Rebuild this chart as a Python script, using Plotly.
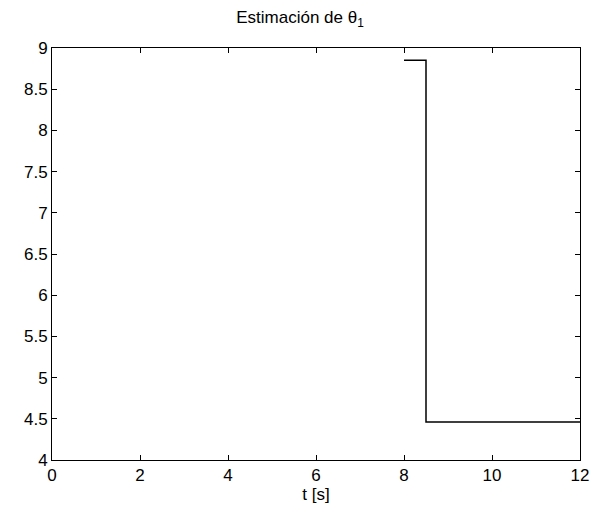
import plotly.graph_objects as go

t = [8.0, 8.5, 12.0]
theta1 = [8.85, 4.46, 4.46]
x_ticks = [0, 2, 4, 6, 8, 10, 12]
y_ticks = [4, 4.5, 5, 5.5, 6, 6.5, 7, 7.5, 8, 8.5, 9]
y_labels = ["4", "4.5", "5", "5.5", "6", "6.5", "7", "7.5", "8", "8.5", "9"]

FONT = dict(family="Liberation Sans, Arial", size=17, color="black")

fig = go.Figure()
fig.add_trace(go.Scatter(x=t, y=theta1, mode="lines", line_shape="hv",
                         line=dict(color="black", width=1.5), showlegend=False))

axis_common = dict(showline=True, linecolor="black", linewidth=1, mirror="ticks",
                   ticks="inside", ticklen=5, tickcolor="black", showgrid=False,
                   zeroline=False, tickfont=FONT)

fig.update_layout(
    width=600, height=510,
    margin=dict(l=52, r=20, t=48, b=50),
    paper_bgcolor="white", plot_bgcolor="white",
    title=dict(text="Estimación de θ<sub>1</sub>", x=0.5, xanchor="center", y=0.978, yanchor="top",
               font=FONT),
    xaxis=dict(range=[0, 12], tickvals=x_ticks,
               title=dict(text="t [s]", standoff=0, font=FONT),
               **axis_common),
    yaxis=dict(range=[4, 9], tickvals=y_ticks, ticktext=y_labels, **axis_common),
)

fig.write_html("out.html")
